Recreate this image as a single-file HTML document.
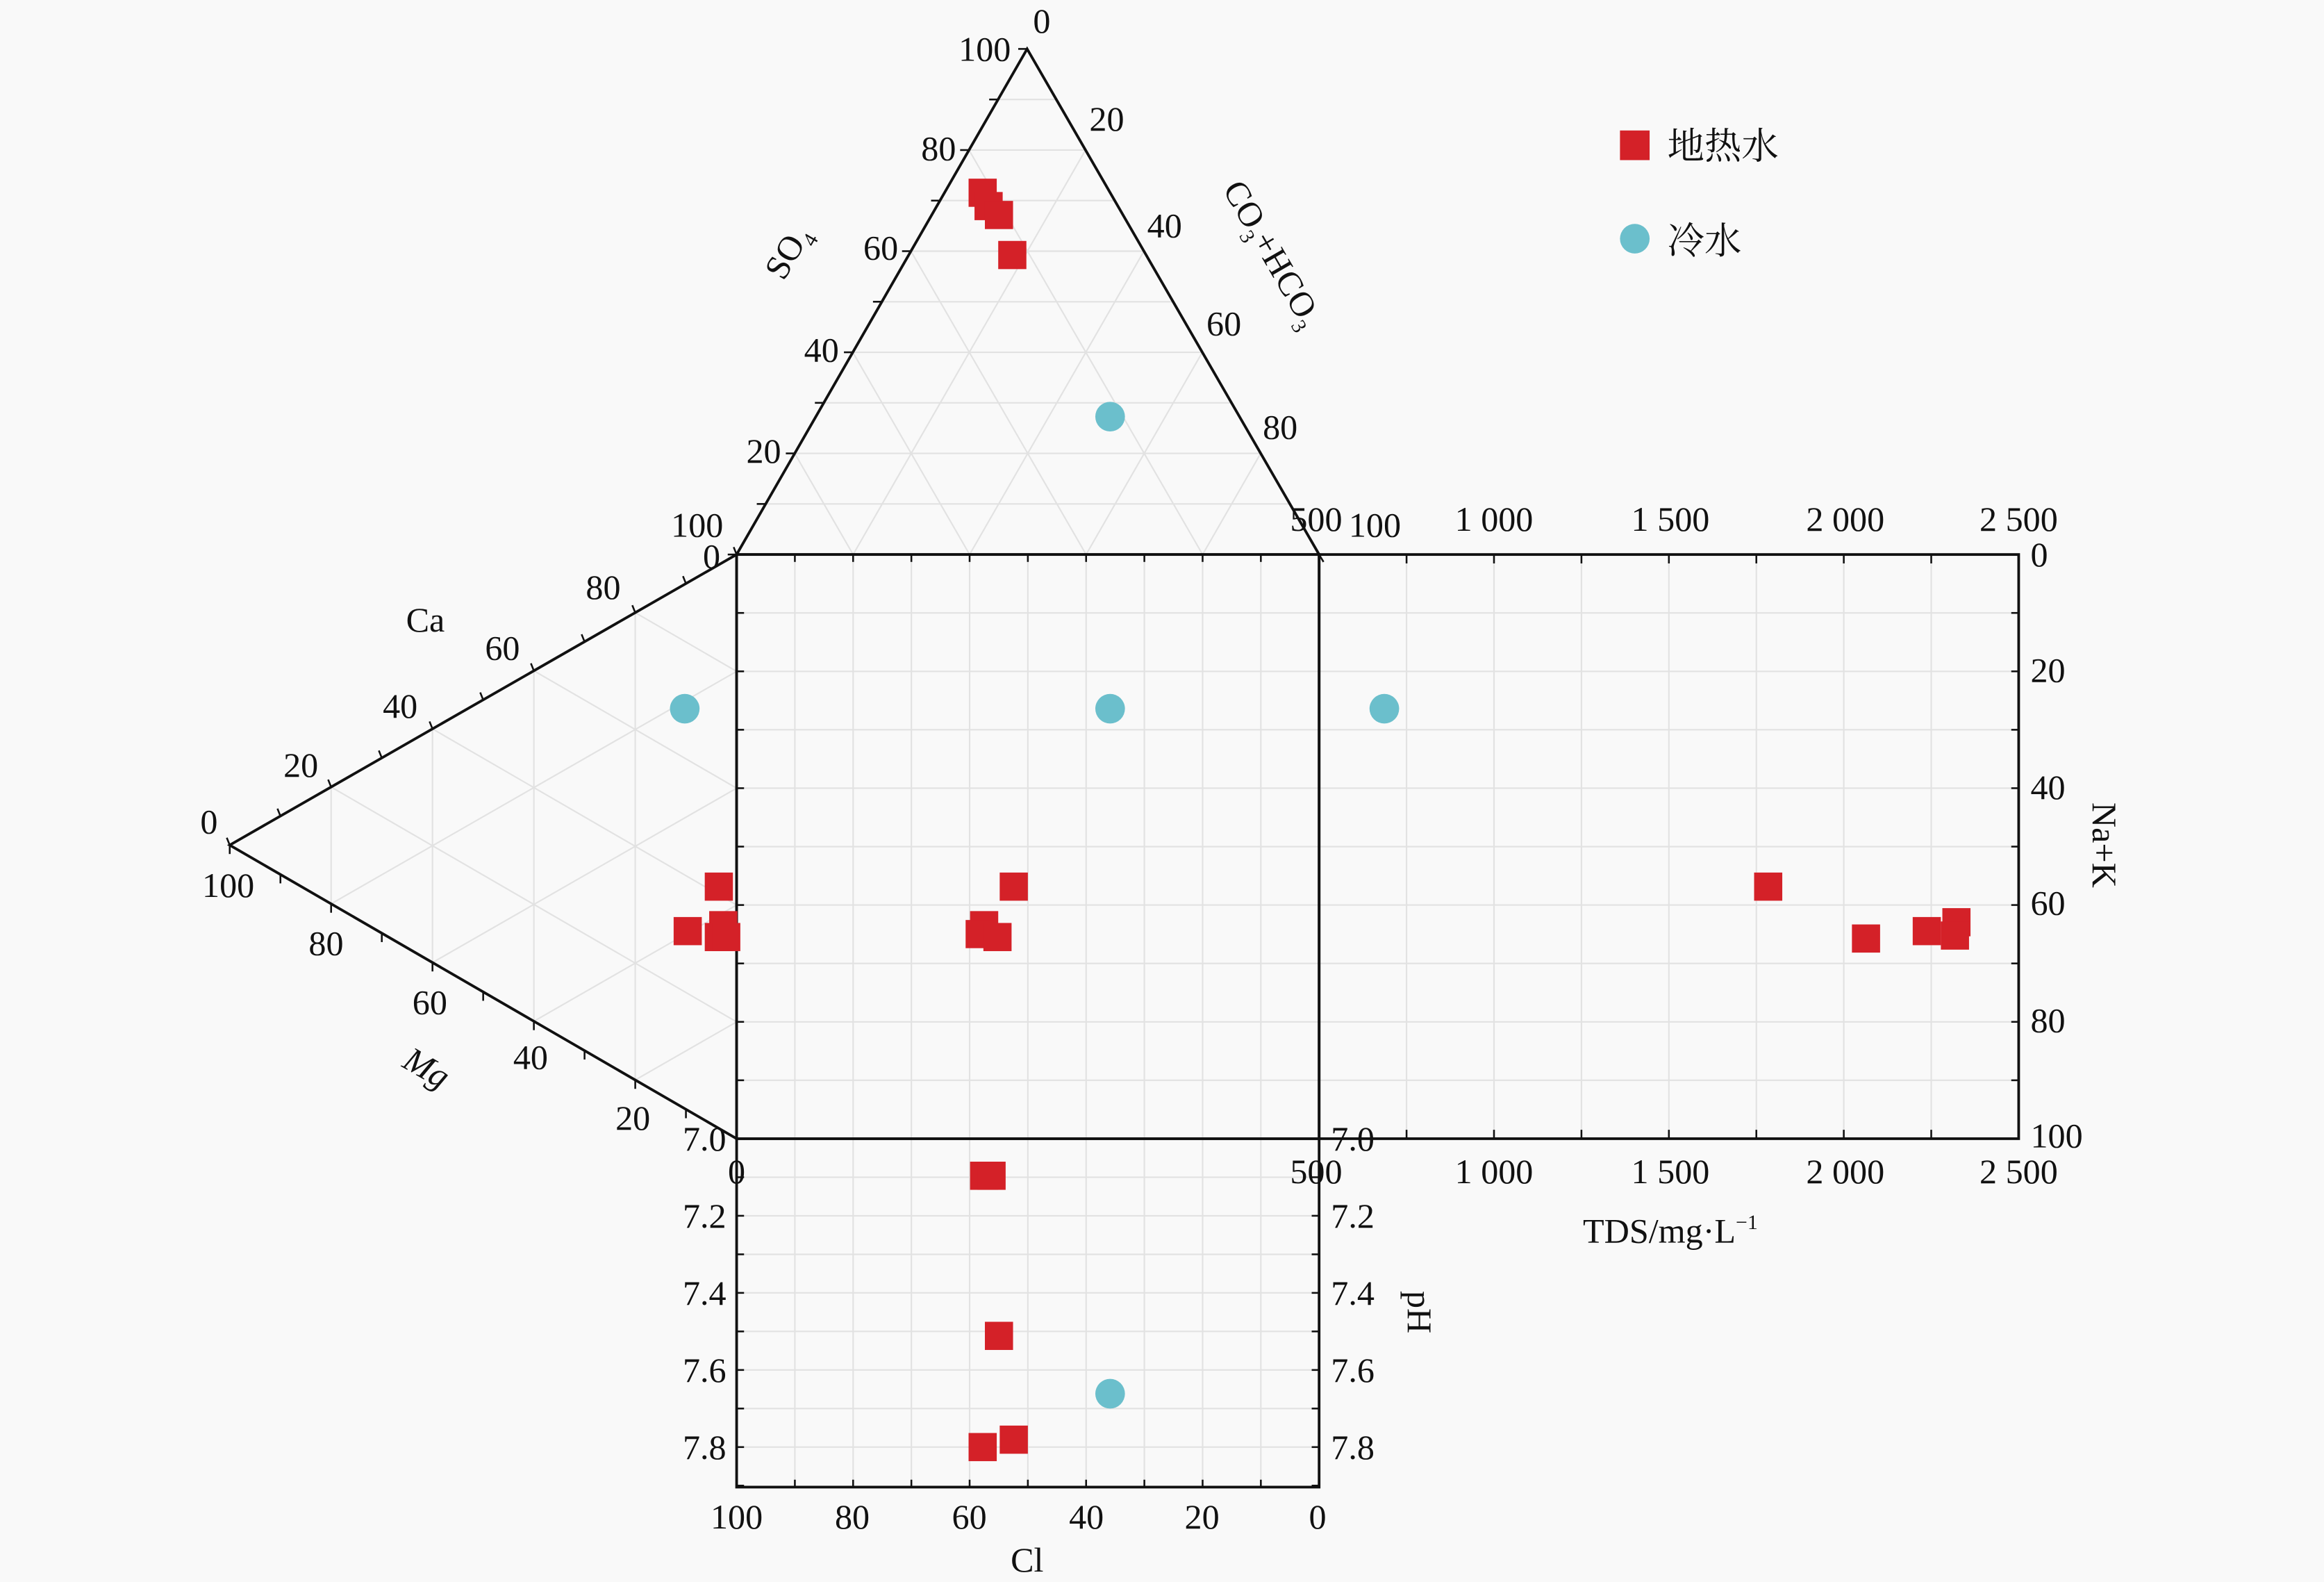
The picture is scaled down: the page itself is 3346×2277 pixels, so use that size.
<!DOCTYPE html>
<html><head><meta charset="utf-8"><style>
html,body{margin:0;padding:0;background:#f9f9f9}
svg{display:block}
text{font-family:"Liberation Serif","Noto Serif CJK SC",serif;font-size:23.5px;fill:#111}
</style></head><body>
<svg id="s" xmlns="http://www.w3.org/2000/svg" width="3346" height="2277" viewBox="0 0 1568 1067" preserveAspectRatio="none">
<rect width="1568" height="1067" fill="#f9f9f9"/>
<g id="grid" stroke="#e2e2e2" stroke-width="1" fill="none"></g>
<g id="axes" stroke="#111" stroke-width="1.8" fill="none">
<polygon points="693,33 497,374 890,374"/>
<polygon points="155,570 497,374 497,768"/>
<rect x="497" y="374" width="393" height="394"/>
<rect x="890" y="374" width="472" height="394"/>
<rect x="497" y="768" width="393" height="235"/>
</g>
<g id="ticks" stroke="#111" stroke-width="1.2"></g>
<g text-anchor="end">
<text x="682" y="41">100</text><text x="645" y="108">80</text><text x="606" y="175">60</text><text x="566" y="244">40</text><text x="527" y="312">20</text><text x="488" y="362">100</text><text x="486" y="383">0</text>
</g>
<g text-anchor="start">
<text x="697" y="22">0</text><text x="735" y="88">20</text><text x="774" y="160">40</text><text x="814" y="226">60</text><text x="852" y="296">80</text>
<text x="910" y="362">100</text>
</g>
<text x="538" y="174" transform="rotate(-60 538 174)" text-anchor="middle">SO<tspan font-size="14" dy="6">4</tspan></text>
<text x="852" y="175" transform="rotate(60 852 175)" text-anchor="middle">CO<tspan font-size="14" dy="6">3</tspan><tspan dy="-6">+HCO</tspan><tspan font-size="14" dy="6">3</tspan></text>
<g text-anchor="middle">
<text x="141" y="562">0</text><text x="203" y="524">20</text><text x="270" y="484">40</text><text x="339" y="445">60</text><text x="407" y="404">80</text>
<text x="287" y="426">Ca</text>
<text x="154" y="605">100</text><text x="220" y="644">80</text><text x="290" y="684">60</text><text x="358" y="721">40</text><text x="427" y="762">20</text>
</g>
<text x="288" y="728" text-anchor="middle" transform="rotate(30 288 720)" font-style="italic">Mg</text>
<g text-anchor="middle">
<text x="888" y="358">500</text><text x="1008" y="358">1 000</text><text x="1127" y="358">1 500</text><text x="1245" y="358">2 000</text><text x="1362" y="358">2 500</text>
<text x="888" y="798">500</text><text x="1008" y="798">1 000</text><text x="1127" y="798">1 500</text><text x="1245" y="798">2 000</text><text x="1362" y="798">2 500</text>
<text x="1127" y="838">TDS/mg·L<tspan font-size="14" dy="-9">−1</tspan></text>
<text x="497" y="798">0</text>
</g>
<g text-anchor="start">
<text x="1370" y="382">0</text><text x="1370" y="460">20</text><text x="1370" y="539">40</text><text x="1370" y="617">60</text><text x="1370" y="696">80</text><text x="1370" y="774">100</text>
</g>
<text x="1412" y="570" transform="rotate(90 1412 570)" text-anchor="middle">Na+K</text>
<g text-anchor="end">
<text x="490" y="776">7.0</text><text x="490" y="828">7.2</text><text x="490" y="880">7.4</text><text x="490" y="932">7.6</text><text x="490" y="984">7.8</text>
</g>
<g text-anchor="start">
<text x="898" y="776">7.0</text><text x="898" y="828">7.2</text><text x="898" y="880">7.4</text><text x="898" y="932">7.6</text><text x="898" y="984">7.8</text>
</g>
<text x="950" y="885" transform="rotate(90 950 885)" text-anchor="middle">pH</text>
<g text-anchor="middle">
<text x="497" y="1031">100</text><text x="575" y="1031">80</text><text x="654" y="1031">60</text><text x="733" y="1031">40</text><text x="811" y="1031">20</text><text x="889" y="1031">0</text>
<text x="693" y="1060">Cl</text>
</g>
<rect x="1093" y="88" width="20" height="20" fill="#d42128"/>
<text x="1125" y="107" style="font-family:'Noto Serif CJK SC','Noto Sans CJK SC',serif;font-size:25px">地热水</text>
<circle cx="1103" cy="161" r="10" fill="#6bbfcc"/>
<text x="1125" y="171" style="font-family:'Noto Serif CJK SC','Noto Sans CJK SC',serif;font-size:25px">冷水</text>
<g id="pts"></g>
</svg>
<script>
var NS="http://www.w3.org/2000/svg";
function L(g,x1,y1,x2,y2){var l=document.createElementNS(NS,"line");l.setAttribute("x1",x1);l.setAttribute("y1",y1);l.setAttribute("x2",x2);l.setAttribute("y2",y2);document.getElementById(g).appendChild(l);}
var A=[693,33],B=[497,374],C=[890,374];
function lp(p,q,t){return [p[0]+(q[0]-p[0])*t,p[1]+(q[1]-p[1])*t];}
for(var i=1;i<10;i++){var t=i/10;var p=lp(A,B,t),q=lp(A,C,t);L("grid",p[0],p[1],q[0],q[1]);}
for(var i=1;i<5;i++){var t=i/5;var p=lp(B,A,t),q=lp(B,C,t);L("grid",p[0],p[1],q[0],q[1]);p=lp(C,A,t);q=lp(C,B,t);L("grid",p[0],p[1],q[0],q[1]);}
var V=[155,570],T=[497,374],Bt=[497,768];
for(var i=1;i<5;i++){var t=i/5;var p=lp(V,T,t),q=lp(V,Bt,t);L("grid",p[0],p[1],q[0],q[1]);p=lp(T,V,t);q=lp(T,Bt,t);L("grid",p[0],p[1],q[0],q[1]);p=lp(Bt,V,t);q=lp(Bt,T,t);L("grid",p[0],p[1],q[0],q[1]);}
for(var i=1;i<10;i++){var x=497+39.3*i;L("grid",x,374,x,1003);var y=374+39.4*i;L("grid",497,y,1362,y);}
for(var v=750;v<2500;v+=250){var x=890+(v-500)*472/2000;L("grid",x,374,x,768);}
for(var i=1;i<9;i++){var y=768+26*i;L("grid",497,y,890,y);}
for(var i=0;i<=10;i++){var x=497+39.3*i;L("ticks",x,374,x,379);L("ticks",x,1003,x,998);var y=374+39.4*i;L("ticks",497,y,502,y);L("ticks",1362,y,1357,y);}
for(var i=0;i<=10;i++){var p=lp(A,B,i/10);L("ticks",p[0],p[1],p[0]-6,p[1]);p=lp(A,C,i/10);L("ticks",p[0],p[1],p[0]+3,p[1]+5);p=lp(V,T,i/10);L("ticks",p[0],p[1],p[0]-2,p[1]-5);p=lp(V,Bt,i/10);L("ticks",p[0],p[1],p[0],p[1]+6);}
for(var v=500;v<=2500;v+=250){var x=890+(v-500)*472/2000;L("ticks",x,374,x,380);L("ticks",x,768,x,762);}
for(var i=0;i<=9;i++){var y=768+26*i;L("ticks",497,y,502,y);L("ticks",890,y,885,y);}
var red=[[663,130],[667,139],[674,145],[683,172],[684,598],[664,624],[661,630],[673,632],[485,598],[464,628],[488,624],[485,632],[490,632],[1193,598],[1259,633],[1300,628],[1320,622],[1319,631],[664,793],[669,793],[674,901],[684,971],[663,976]];
var cy=[[749,281],[749,478],[462,478],[934,478],[749,940]];
var g=document.getElementById("pts");
red.forEach(function(p){var r=document.createElementNS(NS,"rect");r.setAttribute("x",p[0]-9.5);r.setAttribute("y",p[1]-9.5);r.setAttribute("width",19);r.setAttribute("height",19);r.setAttribute("fill","#d42128");g.appendChild(r);});
cy.forEach(function(p){var c=document.createElementNS(NS,"circle");c.setAttribute("cx",p[0]);c.setAttribute("cy",p[1]);c.setAttribute("r",10);c.setAttribute("fill","#6bbfcc");g.appendChild(c);});
</script>
</body></html>
